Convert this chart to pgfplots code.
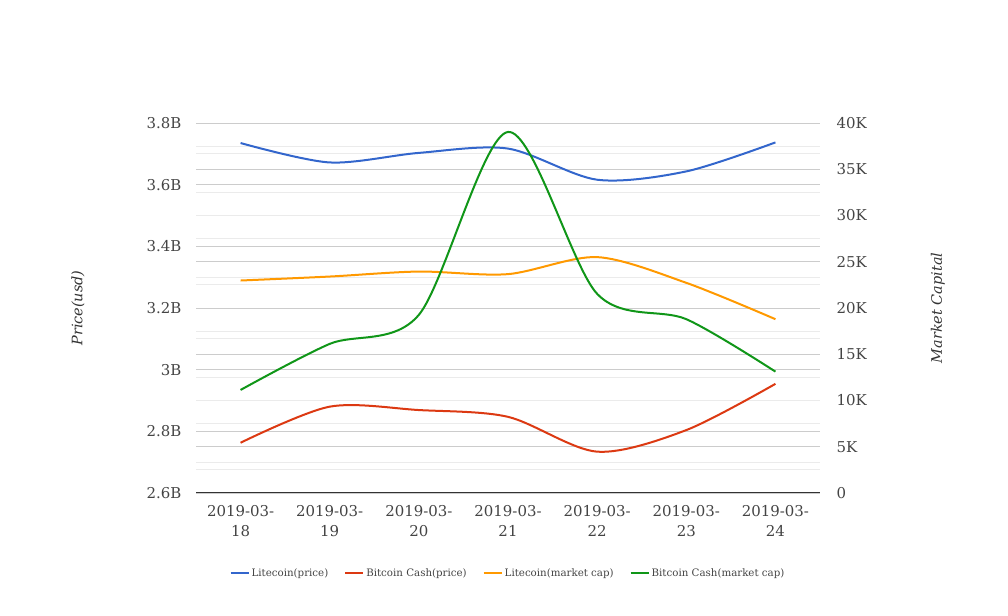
\documentclass[border=0pt]{standalone}
\usepackage{pgfplots}
\pgfplotsset{compat=1.18}
\usepackage{fontspec}
\setmainfont{DejaVu Serif}
\definecolor{cBlue}{HTML}{3366CC}
\definecolor{cRed}{HTML}{DC3912}
\definecolor{cOrange}{HTML}{FF9900}
\definecolor{cGreen}{HTML}{109618}
\definecolor{gMaj}{HTML}{CCCCCC}
\definecolor{gMin}{HTML}{EBEBEB}
\definecolor{txt}{HTML}{444444}
\definecolor{axl}{HTML}{333333}
\pgfplotsset{
 base/.style={
  scale only axis, width=624bp, height=370bp,
  at={(196bp,123bp)}, anchor=south west,
  xmin=-0.5, xmax=6.5,
  /pgf/number format/assume math mode=true,
  tick label style={font=\fontsize{15}{20}\selectfont, text=txt},
  label style={font=\fontsize{14.5}{18}\selectfont\itshape, text=axl},
  major tick length=0pt, minor tick length=0pt,
  major grid style={gMaj, line width=0.8bp},
  minor grid style={gMin, line width=0.8bp},
 }
}
\begin{document}
\begin{tikzpicture}[x=1bp,y=1bp]
\path[use as bounding box] (0,0) rectangle (1008,616);
% grid of right scale
\begin{axis}[base, ymin=0, ymax=40, ytick={0,5,10,15,20,25,30,35,40},
  minor y tick num=1, ymajorgrids, yminorgrids,
  axis line style={draw=none}, xtick=\empty, yticklabels={}]
\end{axis}
% left (price) axis
\begin{axis}[base, ymin=2.6, ymax=3.8,
  ytick={2.6,2.8,3.0,3.2,3.4,3.6,3.8},
  yticklabels={2.6B,2.8B,3B,3.2B,3.4B,3.6B,3.8B},
  yticklabel style={xshift=-11bp},
  minor y tick num=1, ymajorgrids, yminorgrids,
  axis x line*=bottom, axis y line*=left,
  y axis line style={draw=none},
  x axis line style={draw=axl, line width=1bp},
  xtick={0,1,2,3,4,5,6},
  xticklabels={{2019-03-\\18},{2019-03-\\19},{2019-03-\\20},{2019-03-\\21},{2019-03-\\22},{2019-03-\\23},{2019-03-\\24}},
  xticklabel style={align=center, yshift=-9bp},
  ylabel={Price(usd)},
  ylabel style={at={(axis description cs:-0.189,0.5)}, anchor=center},
  legend style={at={(axis description cs:0.5,-0.216)}, anchor=center, draw=none, fill=none,
    legend columns=4, font=\fontsize{10.3}{12}\selectfont, text=txt,
    /tikz/every even column/.append style={column sep=14bp}},
  legend image code/.code={\draw[#1, line width=2bp] (0bp,0bp) -- (18bp,0bp);},
]
\addplot[cBlue, line width=2bp, smooth] coordinates {(0,3.735) (1,3.672) (2,3.703) (3,3.717) (4,3.616) (5,3.643) (6,3.737)};
\addlegendentry{Litecoin(price)}
\addplot[cRed, line width=2bp, smooth] coordinates {(0,2.763) (1,2.880) (2,2.869) (3,2.847) (4,2.734) (5,2.804) (6,2.954)};
\addlegendentry{Bitcoin Cash(price)}
\addlegendimage{cOrange}
\addlegendentry{Litecoin(market cap)}
\addlegendimage{cGreen}
\addlegendentry{Bitcoin Cash(market cap)}
\end{axis}
% right (market cap) axis
\begin{axis}[base, ymin=0, ymax=40,
  ytick={0,5,10,15,20,25,30,35,40},
  yticklabels={0,5K,10K,15K,20K,25K,30K,35K,40K},
  yticklabel style={xshift=13bp},
  axis y line*=right, axis x line=none,
  y axis line style={draw=none}, xtick=\empty,
  ylabel={Market Capital},
  ylabel style={at={(axis description cs:1.189,0.5)}, anchor=center},
]
\addplot[cOrange, line width=2bp, smooth] coordinates {(0,22.97) (1,23.40) (2,23.94) (3,23.66) (4,25.50) (5,22.72) (6,18.79)};
\addplot[cGreen, line width=2bp, smooth] coordinates {(0,11.14) (1,16.12) (2,19.26) (3,39.03) (4,21.53) (5,18.79) (6,13.12)};
\end{axis}
\end{tikzpicture}
\end{document}
